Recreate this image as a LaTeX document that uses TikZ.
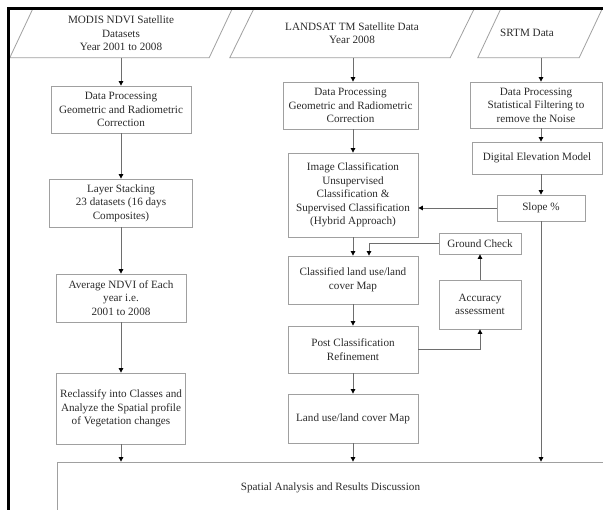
\documentclass[tikz,border=0pt]{standalone}
\usepackage{fontspec}
\setmainfont{Liberation Serif}
\usetikzlibrary{arrows.meta}
\definecolor{boxgray}{HTML}{A0A0A0}
\definecolor{linegray}{HTML}{6E6E6E}
\definecolor{txt}{HTML}{2B2B2B}
\begin{document}
\begin{tikzpicture}[x=1bp,y=-1bp,
  box/.style={draw=boxgray,line width=0.8bp,align=center,inner sep=0pt,text=txt,
    font=\fontsize{11.2}{13.6}\selectfont},
  para/.style={inner sep=0pt,align=center,text=txt,font=\fontsize{11.2}{13.6}\selectfont},
  paraline/.style={draw=boxgray,line width=0.8bp},
  conn/.style={draw=linegray,line width=0.8bp,-{Triangle[width=4.5bp,length=4.5bp,color=black]}},
  plainline/.style={draw=linegray,line width=0.8bp}]
\useasboundingbox (0,0) rectangle (603,510);
\clip (0,0) rectangle (603,510);
\fill[white] (0,0) rectangle (603,510);

% input parallelograms
\node[para,minimum width=222bp,minimum height=48.5bp] (modis) at (121,33.25)
  {MODIS NDVI Satellite\\Datasets\\Year 2001 to 2008};
\node[para,minimum width=244bp,minimum height=48.5bp] (landsat) at (352,33.25)
  {LANDSAT TM Satellite Data\\Year 2008};
\node[para,minimum width=124bp,minimum height=48.5bp] (srtm) at (540,33.25)
  {\hspace*{-26bp}SRTM Data};
\draw[paraline] (modis.south west) -- ([xshift=23bp]modis.north west) -- (modis.north east) -- ([xshift=-23bp]modis.south east) -- cycle;
\draw[paraline] (landsat.south west) -- ([xshift=24bp]landsat.north west) -- (landsat.north east) -- ([xshift=-24bp]landsat.south east) -- cycle;
\draw[paraline] (srtm.south west) -- ([xshift=23bp]srtm.north west) -- (srtm.north east) -- ([xshift=-23bp]srtm.south east) -- cycle;

% column 1
\node[box,minimum width=140bp,minimum height=47bp] (dp1) at (121,109.5)
  {Data Processing\\Geometric and Radiometric\\Correction};
\node[box,minimum width=143bp,minimum height=48bp] (ls) at (121,203)
  {Layer Stacking\\23 datasets (16 days\\Composites)};
\node[box,minimum width=130bp,minimum height=48bp] (avg) at (121,298)
  {Average NDVI of Each\\year i.e.\\2001 to 2008};
\node[box,minimum width=129bp,minimum height=71bp] (recl) at (121,408.5)
  {Reclassify into Classes and\\Analyze the Spatial profile\\of Vegetation changes};

% column 2
\node[box,minimum width=135bp,minimum height=47bp] (dp2) at (350.5,105.5)
  {Data Processing\\Geometric and Radiometric\\Correction};
\node[box,minimum width=130bp,minimum height=84bp] (ic) at (353,195)
  {Image Classification\\Unsupervised\\Classification \&\\Supervised Classification\\(Hybrid Approach)};
\node[box,minimum width=130bp,minimum height=48bp] (cl) at (353,280)
  {Classified land use/land\\cover Map};
\node[box,minimum width=130bp,minimum height=47bp] (post) at (353,349.5)
  {Post Classification\\Refinement};
\node[box,minimum width=130bp,minimum height=49bp] (lu) at (353,418.5)
  {Land use/land cover Map};

% column 3
\node[box,minimum width=132bp,minimum height=46bp] (dp3) at (536,105)
  {Data Processing\\Statistical Filtering to\\remove the Noise};
\node[box,minimum width=130bp,minimum height=32bp] (dem) at (537,158)
  {Digital Elevation Model};
\node[box,minimum width=88bp,minimum height=26bp] (slope) at (541,208)
  {Slope \%};
\node[box,minimum width=82bp,minimum height=21bp] (gc) at (480,243.5)
  {Ground Check};
\node[box,minimum width=82bp,minimum height=49bp] (acc) at (480,304.5)
  {Accuracy\\assessment};

% bottom
\node[box,minimum width=547bp,minimum height=51bp] (sa) at (330.5,487.5)
  {Spatial Analysis and Results Discussion};

% connectors column 1
\draw[conn] (modis.south) -- (modis.south |- dp1.north);
\draw[conn] (dp1.south) -- (dp1.south |- ls.north);
\draw[conn] (ls.south) -- (ls.south |- avg.north);
\draw[conn] (avg.south) -- (avg.south |- recl.north);
\draw[conn] (recl.south) -- (recl.south |- sa.north);

% connectors column 2
\draw[conn] (landsat.south -| ic.north) -- (dp2.north -| ic.north);
\draw[conn] (dp2.south -| ic.north) -- (ic.north);
\draw[conn] (ic.south) -- (cl.north);
\draw[conn] (cl.south) -- (post.north);
\draw[conn] (post.south) -- (lu.north);
\draw[conn] (lu.south) -- (lu.south |- sa.north);

% connectors column 3
\draw[conn] (srtm.south -| slope.north) -- (dp3.north -| slope.north);
\draw[conn] (dp3.south -| slope.north) -- (dem.north -| slope.north);
\draw[conn] (dem.south -| slope.north) -- (slope.north);
\draw[conn] (slope.west) -- (slope.west -| ic.east);
\draw[conn] (slope.south) -- (slope.south |- sa.north);
\draw[conn] (gc.west) -| ([xshift=16bp]cl.north);
\draw[conn] (acc.north) -- (gc.south);
\draw[conn] (post.east) -| (acc.south);

% black frame edges
\fill[black] (7,7) rectangle (603,10);
\fill[black] (7,7) rectangle (10,510);
\end{tikzpicture}
\end{document}
